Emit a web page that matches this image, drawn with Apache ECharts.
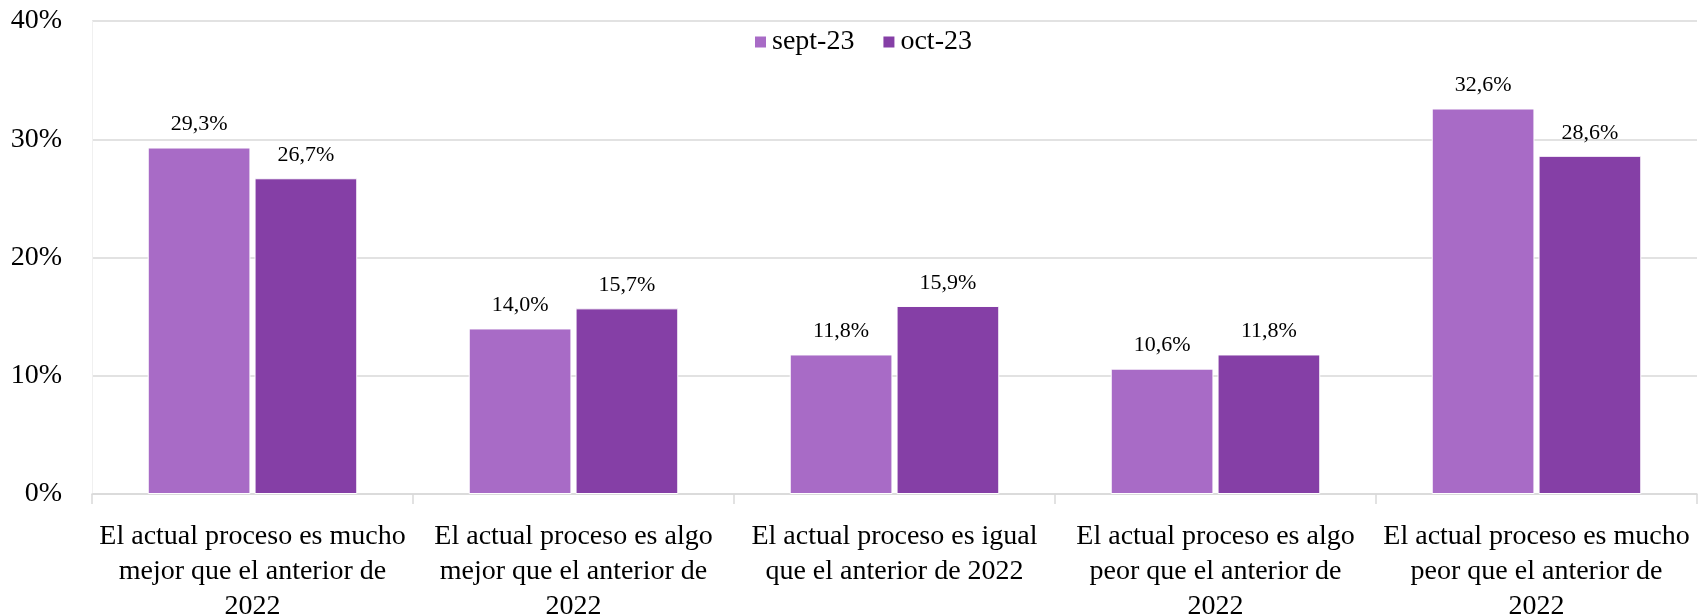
<!DOCTYPE html>
<html>
<head>
<meta charset="utf-8">
<script src="https://cdn.jsdelivr.net/npm/echarts@6/dist/echarts.min.js"></script>
<style>
  html, body { margin: 0; padding: 0; background: #fff; }
  #chart { width: 1701px; height: 616px; }
</style>
</head>
<body>
<div id="chart"></div>
<script>
// categorías (saltos de línea como en el original)
const categories = [
  'El actual proceso es mucho\nmejor que el anterior de\n2022',
  'El actual proceso es algo\nmejor que el anterior de\n2022',
  'El actual proceso es igual\nque el anterior de 2022',
  'El actual proceso es algo\npeor que el anterior de\n2022',
  'El actual proceso es mucho\npeor que el anterior de\n2022',
];
const seriesNames = ['sept-23', 'oct-23'];
const septValues = [29.3, 14.0, 11.8, 10.6, 32.6];
const octValues = [26.7, 15.7, 15.9, 11.8, 28.6];
const yTicks = [0, 10, 20, 30, 40];

const FONT = 'Liberation Serif';
const colors = ['#A86BC6', '#853FA6'];

const chart = echarts.init(document.getElementById('chart'));

const makeSeries = (name, data, color) => ({
  name,
  type: 'bar',
  data,
  barWidth: '32%',
  barGap: '4%',
  itemStyle: { color, borderColor: '#fff', borderWidth: 1 },
  label: {
    show: true,
    position: 'top',
    distance: 12,
    fontFamily: FONT,
    fontSize: 22,
    color: '#000',
    formatter: (p) => p.value.toFixed(1).replace('.', ',') + '%',
  },
});

chart.setOption({
  animation: false,
  textStyle: { fontFamily: FONT },
  grid: {
    left: 92,
    right: 4,
    top: 21,
    bottom: 122,
    containLabel: false,
    outerBoundsMode: 'none',
  },
  legend: {
    left: 748,
    top: 23,
    itemWidth: 13,
    itemHeight: 13,
    itemGap: 27,
    icon: 'rect',
    data: seriesNames,
    textStyle: { fontFamily: FONT, fontSize: 28, color: '#000' },
  },
  xAxis: {
    type: 'category',
    data: categories,
    axisLine: { lineStyle: { color: '#d9d9d9', width: 1.5 } },
    axisTick: { show: true, length: 10, lineStyle: { color: '#d9d9d9', width: 1.5 } },
    axisLabel: {
      interval: 0,
      margin: 25,
      fontFamily: FONT,
      fontSize: 28,
      lineHeight: 35,
      color: '#000',
    },
  },
  yAxis: {
    type: 'value',
    min: yTicks[0],
    max: yTicks[yTicks.length - 1],
    interval: 10,
    axisLine: { show: true, lineStyle: { color: '#f0f0f0', width: 1 } },
    axisTick: { show: false },
    splitLine: { lineStyle: { color: '#d9d9d9', width: 1.5 } },
    axisLabel: {
      margin: 30,
      fontFamily: FONT,
      fontSize: 28,
      color: '#000',
      formatter: (v) => v + '%',
    },
  },
  series: [
    makeSeries(seriesNames[0], septValues, colors[0]),
    makeSeries(seriesNames[1], octValues, colors[1]),
  ],
});
</script>
</body>
</html>
